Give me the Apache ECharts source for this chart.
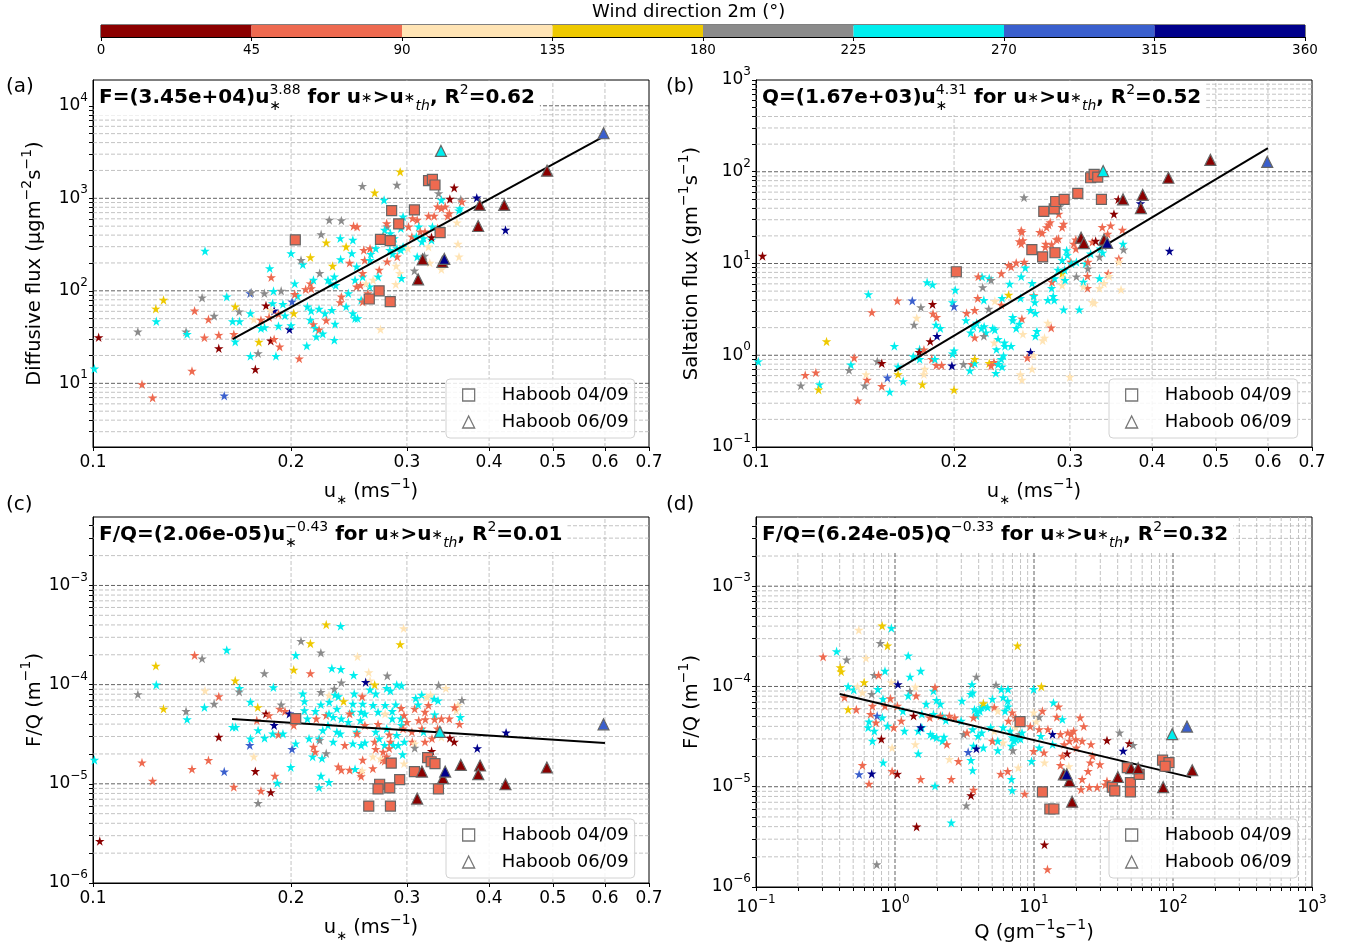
<!DOCTYPE html>
<html><head><meta charset="utf-8">
<script src="https://cdn.jsdelivr.net/npm/echarts@6/dist/echarts.min.js"></script>
<style>html,body{margin:0;padding:0;background:#fff}#c{width:1349px;height:944px}</style>
</head><body><div id="c"></div>
<script>
// ---------------- data ----------------
// direction bins (deg) and their colours
const DIR_BINS = [0,45,90,135,180,225,270,315,360];
const DIR_COLORS = ['#8B0000','#EE6A50','#FFE4B5','#EEC900','#8B8B8B','#00EEEE','#3A5FCD','#00008B'];
const U_TICKS = [0.1,0.2,0.3,0.4,0.5,0.6,0.7];

// each point: [x, y, direction-bin index]
const aStars = [[0.102,31.4,0],[0.1005,14.4,5],[0.1187,9.75,1],[0.1232,7.0,1],[0.117,36.2,4],[0.1248,46.8,5],[0.1246,64,3],[0.128,79.6,3],
[0.1414,13.6,1],[0.1427,61,1],[0.1385,36.2,4],[0.139,34.1,5],[0.1465,84.3,4],[0.1477,31.2,1],[0.148,270,5],[0.1498,49.2,1],[0.1528,53.5,4],[0.1553,23.9,0],[0.1553,33.3,1],[0.1583,7.36,6],[0.1597,86.5,5],[0.1637,34,1],[0.1645,28.2,5],[0.1645,67.5,3],[0.1668,59.6,4],[0.163,46.8,5],[0.167,46.8,5],
[0.1733,94,6],[0.174,96,4],[0.1735,57.1,5],[0.1756,49.2,2],[0.1735,19.7,5],[0.1765,14.2,0],[0.1782,21.1,4],[0.1787,28,3],[0.18,48.4,1],[0.1823,40.3,5],[0.18,39.5,5],[0.1822,94,4],[0.1856,175,5],[0.1866,140,1],[0.1881,99.5,5],[0.1832,69.2,0],[0.1885,61,7],[0.1875,73.3,5],[0.1863,62,2],[0.1852,51.8,1],[0.1863,28.9,0],[0.1885,30,1],[0.1922,24.9,1],[0.1897,19.7,5],[0.1914,41.7,5],[0.1914,56.2,1],[0.1944,72,5],[0.1932,100,4],[0.1958,54,5],[0.1989,38.4,7],[0.2,42.4,5],[0.2007,76.4,6],[0.2019,57.1,3],[0.2058,18.5,1],
[0.2,254,5],[0.2084,193,5],[0.2071,215,4],[0.214,230,3],[0.2026,120,5],[0.2046,88,5],[0.2026,92,1],[0.2105,104,1],[0.214,120,1],[0.2118,67.5,5],[0.2146,61,5],[0.214,48.4,5],[0.2163,43.4,1],[0.2178,39.5,5],[0.2113,25.5,5],[0.2185,32,5],[0.2206,63.7,5],[0.2211,155,4],[0.2222,408,4],[0.2262,332,3],[0.2163,131,5],[0.2146,106,1],[0.2276,131,5],[0.2206,38,1],[0.2252,57,5],[0.2262,48,1],[0.2235,34.4,5],[0.2307,62,5],[0.2333,43.8,5],[0.2327,29.4,5],[0.2296,120,5],[0.2338,115,5],[0.2385,86.4,1],[0.2376,75.2,1],[0.2313,186,3],[0.2327,142,5],[0.2376,370,5],[0.2286,583,4],[0.2385,577,4],[0.2483,355,5],[0.2425,300,3],[0.2379,219,5],[0.2489,502,1],[0.252,494,1],[0.2474,254,5],[0.2455,201,1],[0.2516,183,5],[0.2502,131,5],[0.2516,111,1],[0.2444,94,5],[0.2425,67.5,5],[0.2483,57,5],[0.2502,50.4,5],[0.2524,50.4,5],[0.2556,79.6,5],[0.257,76.4,1],[0.255,115,1],[0.257,142,5],[0.257,155,1],[0.2588,215,1],[0.2637,215,5],[0.258,276,1],[0.2644,250,5],[0.2637,287,1],[0.269,287,5],[0.2567,1358,4],[0.268,1151,3],[0.277,959,5],[0.2723,168,1],[0.2712,142,5],[0.2665,131,2],[0.2633,111,5],[0.2617,94,1],[0.26,120,2],[0.2735,38.4,2],[0.2832,80,5],[0.28,494,4],[0.2795,536,1],[0.2775,455,5],[0.2761,385,1],[0.2832,419,5],[0.287,370,5],[0.29,536,1],[0.2937,474,5],[0.29,234,1],[0.2853,250,5],[0.2897,287,5],[0.2826,276,5],[0.28,207,1],[0.2889,186,2],[0.2925,155,2],[0.2937,276,5],[0.2944,137,5],[0.2885,118,2],[0.296,300,5],[0.296,634,5],[0.2944,583,5],[0.2897,1393,4],[0.293,1941,3],[0.3017,494,1],[0.301,287,2],[0.3053,385,1],[0.307,748,1],[0.306,608,1],[0.311,583,1],[0.3127,494,5],[0.3144,436,1],[0.31,385,5],[0.318,370,5],[0.3162,340,5],[0.3196,436,1],[0.308,165,4],[0.311,234,5],[0.319,238,4],[0.3235,300,2],[0.325,201,2],[0.327,355,5],[0.327,379,0],[0.334,474,1],[0.328,494,5],[0.33,644,1],[0.3236,644,1],[0.334,813,1],[0.3385,780,1],[0.343,813,1],[0.3385,959,5],[0.3487,984,0],[0.3352,1132,4],[0.354,1303,0],[0.346,644,1],[0.348,688,1],[0.3575,546,2],[0.361,780,5],[0.36,736,5],[0.3623,975,4],[0.3637,920,1],[0.3587,321,2],[0.36,234,2],[0.3385,171,2],[0.3831,1016,7],[0.4236,455,7]];
const aSquares = [[0.203,355,1],[0.2735,360,1],[0.283,348,1],[0.2844,736,1],[0.308,748,1],[0.2915,528,1],[0.3236,1553,1],[0.328,1603,1],[0.331,1393,1],[0.337,425,1],[0.2722,100,1],[0.263,81.6,1],[0.283,76.4,1]];
const aTriangles = [[0.338,3250,5],[0.597,5050,6],[0.49,1990,0],[0.387,847,0],[0.4217,847,0],[0.385,502,0],[0.317,219,0],[0.3396,206,0],[0.312,133,0],[0.342,221,7]];
const aFit = [[0.163,30],[0.597,4650]];

const bStars = [[0.1023,12.1,0],[0.1008,0.855,5],[0.1188,0.608,1],[0.1233,0.648,1],[0.117,0.467,4],[0.1249,0.48,5],[0.1245,0.422,3],[0.128,1.416,3],[0.1394,0.79,5],[0.1385,0.69,4],[0.141,0.94,1],[0.1482,4.62,5],[0.15,2.94,1],[0.1428,0.321,1],[0.1463,0.467,4],[0.1475,0.54,1],[0.1553,0.46,1],[0.1529,0.86,4],[0.1553,0.82,0],[0.147,0.62,2],[0.1584,0.57,6],[0.1597,0.4,5],[0.1623,1.26,5],[0.1644,0.75,5],[0.1644,0.62,3],[0.1674,0.52,5],[0.164,3.93,1],[0.1728,3.93,6],[0.1781,3.33,4],[0.1855,3.6,0],[0.1755,2.55,2],[0.1739,2.15,4],[0.1858,2.85,1],[0.1881,2.6,1],[0.182,6.24,5],[0.1855,5.9,5],[0.1877,2.15,5],[0.1906,1.97,5],[0.1884,1.62,7],[0.184,1.42,0],[0.1773,1.16,5],[0.177,1.08,0],[0.18,1.15,1],[0.1734,0.97,5],[0.1773,0.91,5],[0.1805,0.71,2],[0.18,0.62,2],[0.179,0.48,3],[0.185,0.91,1],[0.1915,0.78,1],[0.188,0.78,1],[0.187,0.91,5],[0.1985,0.77,7],[0.199,1.04,5],[0.2,1.12,5],[0.2,0.42,3],[0.2008,5.15,5],[0.199,3.78,5],[0.2,3.4,6],[0.2067,0.8,4],[0.209,2.88,1],[0.2085,2.4,5],[0.212,1.76,5],[0.215,1.56,1],[0.214,2.05,5],[0.2128,0.8,1],[0.2114,0.68,5],[0.215,0.82,5],[0.215,0.91,3],[0.2165,2.25,5],[0.2173,4.19,1],[0.215,3.1,1],[0.2206,7.18,5],[0.2211,5.5,4],[0.222,4.0,5],[0.2177,7.2,1],[0.2202,1.97,5],[0.2236,1.76,5],[0.222,1.62,4],[0.2222,2.06,5],[0.2258,3.2,4],[0.2262,6.9,5],[0.2277,6.6,4],[0.229,1.97,5],[0.2307,1.9,5],[0.23,0.84,1],[0.232,1.16,5],[0.2315,0.64,5],[0.2333,0.8,5],[0.2262,0.82,3],[0.2277,0.77,1],[0.236,0.91,5],[0.2366,0.75,5],[0.236,3.55,1],[0.2307,3.9,2],[0.2333,1.5,5],[0.2302,1.37,2],[0.2386,1.37,5],[0.2378,0.99,5],[0.2421,4.55,3],[0.2366,4.2,5],[0.236,7.8,1],[0.2442,9.2,1],[0.2421,9.6,1],[0.243,6.0,5],[0.239,1.26,5],[0.2442,1.26,5],[0.2456,2.6,5],[0.2456,2.4,5],[0.2486,1.97,5],[0.2536,2.5,1],[0.2545,1.7,2],[0.2514,2.2,5],[0.253,7.2,5],[0.2523,4.2,5],[0.2486,10.2,1],[0.2566,9.0,5],[0.2557,10.4,1],[0.253,22.9,1],[0.2536,22,1],[0.2514,17.4,1],[0.253,16.4,1],[0.2545,17.9,1],[0.2628,6.1,5],[0.2643,4.5,1],[0.2653,3.78,5],[0.2614,3.1,5],[0.2658,2.88,5],[0.2673,1.83,5],[0.2658,1.62,5],[0.2643,4.4,5],[0.2614,1.08,7],[0.2585,0.94,1],[0.2643,1.0,2],[0.2628,0.71,2],[0.2523,0.62,2],[0.2536,0.54,2],[0.2722,21.5,1],[0.27,22,1],[0.2765,24.8,1],[0.2785,26.5,1],[0.28,28.1,1],[0.2757,16.4,1],[0.2752,15.1,1],[0.2814,16.2,1],[0.2885,34.7,1],[0.2895,41.9,4],[0.2555,52.5,4],[0.2935,27,1],[0.292,24.9,1],[0.2882,18.6,1],[0.2862,18.3,1],[0.2814,5.4,5],[0.283,4.4,5],[0.284,4.0,5],[0.2777,4.0,5],[0.2777,2.25,2],[0.281,2.0,1],[0.2727,1.45,2],[0.2745,1.55,2],[0.2818,6.3,1],[0.2844,6.9,5],[0.2877,8.5,5],[0.292,7.8,3],[0.2946,8.5,5],[0.2935,3.15,5],[0.292,10.9,5],[0.2928,6.9,2],[0.292,5.8,2],[0.295,6.6,5],[0.2966,13.9,5],[0.2973,12.3,5],[0.301,10.4,1],[0.3014,10,5],[0.304,16.4,1],[0.3063,18.2,1],[0.3063,14.5,1],[0.31,3.15,5],[0.3069,10.4,5],[0.3069,7.2,4],[0.319,7.3,1],[0.319,5.4,1],[0.3145,6.3,5],[0.317,10.0,5],[0.3195,10.4,1],[0.3226,12.8,5],[0.3145,5.6,2],[0.3245,3.8,2],[0.3266,3.7,2],[0.3195,8.8,4],[0.3327,6.9,5],[0.3327,5.4,2],[0.3245,17.2,1],[0.336,24.9,1],[0.346,25.9,1],[0.3424,21,1],[0.3283,17.6,0],[0.35,34.7,0],[0.3553,50,0],[0.3336,14.5,5],[0.3365,13.1,5],[0.3327,11.8,4],[0.338,15.4,4],[0.338,6.1,2],[0.343,7.8,1],[0.344,7.3,2],[0.356,11.3,1],[0.356,10.4,2],[0.3588,5.2,2],[0.3613,16.4,5],[0.362,14.2,4],[0.3605,23.3,1],[0.384,45.1,7],[0.4251,13.7,7],[0.3,0.58,2]];
const bSquares = [[0.2016,8.13,1],[0.2626,14.2,1],[0.2727,11.8,1],[0.2847,13.1,1],[0.2738,37,1],[0.284,39.3,1],[0.2854,47.4,1],[0.294,49.9,1],[0.3084,58,1],[0.335,50,1],[0.3226,86,1],[0.3266,93.6,1],[0.3307,87.6,1]];
const bTriangles = [[0.337,101.7,5],[0.5985,128,6],[0.4905,134.7,0],[0.4235,86,0],[0.387,56,0],[0.3846,40.2,0],[0.3613,50,0],[0.312,19.1,0],[0.315,16.7,0],[0.338,18.2,0],[0.3418,16.8,7]];
const bFit = [[0.1623,0.667],[0.6,181]];

const cStars = [[0.1024,2.65e-6,0],[0.1005,1.74e-5,5],[0.1187,1.64e-5,1],[0.1232,1.07e-5,1],[0.117,8.0e-5,4],[0.1248,1.0e-4,5],[0.1246,1.55e-4,3],[0.128,5.7e-5,3],[0.1414,1.41e-5,1],[0.1427,1.98e-4,1],[0.1465,1.83e-4,4],[0.1385,5.4e-5,4],[0.139,4.47e-5,5],[0.1477,5.9e-5,5],[0.1528,6.4e-5,4],[0.1553,7.6e-5,1],[0.1553,2.97e-5,0],[0.1498,1.73e-5,1],[0.1583,1.33e-5,6],[0.1597,2.24e-4,5],[0.163,3.74e-5,5],[0.1648,3.74e-5,5],[0.1637,9.3e-6,1],[0.1645,1.1e-4,3],[0.167,9.2e-5,5],[0.1668,8.5e-5,4],[0.148,8.7e-5,2],[0.1735,6.7e-5,5],[0.178,5.9e-5,3],[0.1756,1.88e-5,2],[0.1765,1.34e-5,0],[0.1731,2.45e-5,6],[0.1735,2.86e-5,5],[0.1774,4.37e-5,1],[0.1782,3.46e-5,5],[0.1782,6.4e-6,4],[0.18,8.5e-6,1],[0.1863,8.2e-6,0],[0.189,1.2e-5,1],[0.1906,1.02e-5,5],[0.1822,1.3e-4,4],[0.1832,5.1e-5,0],[0.1885,3.9e-5,7],[0.1852,4.9e-5,1],[0.188,9.4e-5,5],[0.1823,2.9e-5,5],[0.1922,5.7e-5,1],[0.1876,3.2e-5,5],[0.1914,3.14e-5,1],[0.1944,3.2e-5,5],[0.1932,6.3e-5,4],[0.1958,5.4e-5,1],[0.1989,5.1e-5,7],[0.2007,2.24e-5,6],[0.1998,1.47e-5,5],[0.2019,1.41e-4,3],[0.2033,1.98e-4,5],[0.2084,8.1e-5,5],[0.2096,6.8e-5,5],[0.214,1.3e-4,1],[0.214,2.6e-4,3],[0.2071,2.75e-4,4],[0.222,2.1e-4,4],[0.2262,4.04e-4,3],[0.2379,3.9e-4,5],[0.2033,2.55e-5,5],[0.2019,3.9e-5,1],[0.2096,5.5e-5,5],[0.2118,4.54e-5,5],[0.213,2.86e-5,5],[0.2163,2.36e-5,1],[0.2157,1.88e-5,5],[0.2221,1.2e-5,5],[0.2206,9.2e-6,5],[0.2284,1.04e-5,5],[0.2176,2.1e-5,1],[0.2185,4.54e-5,1],[0.2206,2.86e-5,5],[0.222,6.3e-5,5],[0.222,8.4e-5,4],[0.2178,5.4e-5,5],[0.2211,2.75e-5,4],[0.2235,3.46e-5,5],[0.2229,1.81e-5,5],[0.2262,2.03e-5,4],[0.2262,4.9e-5,1],[0.2286,6.7e-5,5],[0.2307,1.46e-4,5],[0.2381,1.43e-4,5],[0.249,1.25e-4,5],[0.2284,7.8e-5,2],[0.2327,9.05e-5,4],[0.2333,7.9e-5,5],[0.236,7.6e-5,5],[0.2348,5.7e-5,5],[0.2318,4.71e-5,5],[0.2284,5.1e-5,5],[0.2276,3.9e-5,5],[0.2348,3.34e-5,5],[0.2318,2.65e-5,5],[0.2376,3.2e-5,5],[0.2444,4.2e-5,5],[0.2385,4.54e-5,5],[0.2385,1.05e-4,4],[0.2404,6.8e-5,3],[0.2414,2.45e-5,1],[0.236,1.49e-5,1],[0.2385,1.38e-5,1],[0.2455,1.38e-5,1],[0.2502,1.41e-5,5],[0.2495,8.1e-5,5],[0.2483,6.4e-5,5],[0.2474,5.3e-5,5],[0.2455,5.1e-5,1],[0.2516,3.34e-5,5],[0.2483,2.55e-5,5],[0.252,3.2e-5,1],[0.2524,1.92e-4,2],[0.2625,1.33e-4,2],[0.2637,1.1e-4,2],[0.2597,1.06e-4,7],[0.268,1.0e-4,3],[0.2637,8.9e-5,5],[0.257,6.4e-5,5],[0.2565,7.6e-5,1],[0.2556,5.3e-5,5],[0.255,4.37e-5,5],[0.259,5.1e-5,5],[0.259,3.9e-5,1],[0.2556,2.45e-5,5],[0.259,2.6e-5,5],[0.257,1.74e-5,1],[0.2556,1.19e-5,1],[0.255,1.28e-5,1],[0.2565,1.36e-5,2],[0.2663,1.88e-5,2],[0.2663,1.43e-5,1],[0.269,8.1e-5,5],[0.2665,6.2e-5,5],[0.2712,5.3e-5,5],[0.2712,4.0e-5,1],[0.269,3.34e-5,5],[0.268,2.65e-5,1],[0.2723,2.86e-5,5],[0.269,2.24e-5,1],[0.276,2.1e-5,1],[0.2775,2.45e-5,5],[0.2754,1.74e-5,1],[0.2735,1.8e-5,2],[0.278,6.2e-5,5],[0.2795,9.2e-5,5],[0.2801,1.23e-4,4],[0.2832,8.7e-5,5],[0.2795,3.6e-5,5],[0.282,3.14e-5,1],[0.285,4.54e-5,5],[0.285,5.4e-5,5],[0.2885,6.3e-5,5],[0.278,5.1e-5,2],[0.2832,2.65e-5,1],[0.286,2.45e-5,5],[0.282,2.28e-5,1],[0.2795,1.88e-5,1],[0.2775,1.7e-5,1],[0.2895,1.0e-4,5],[0.2944,9.8e-5,5],[0.2937,4.54e-5,5],[0.2944,3.9e-5,5],[0.2895,3.1e-5,5],[0.291,2.45e-5,5],[0.294,5.8e-5,1],[0.293,2.55e-4,3],[0.2966,3.7e-4,2],[0.297,4.9e-5,1],[0.296,3.6e-5,1],[0.297,1.6e-5,2],[0.2955,1.98e-5,5],[0.3,4.2e-5,1],[0.3053,3.34e-5,1],[0.3057,2.65e-5,1],[0.2973,2.65e-5,5],[0.3083,5.7e-5,1],[0.3127,4.37e-5,1],[0.3162,3.6e-5,1],[0.3094,7.3e-5,5],[0.316,7.9e-5,5],[0.312,6.3e-5,5],[0.318,3.34e-5,5],[0.3083,2.55e-5,2],[0.3083,2.3e-5,4],[0.3196,5.3e-5,1],[0.3235,6.2e-5,1],[0.32,4.47e-5,1],[0.3216,7.5e-5,2],[0.326,7.9e-5,2],[0.33,7.2e-5,5],[0.3345,6.9e-5,5],[0.3306,5.0e-5,5],[0.3306,4.47e-5,1],[0.3385,4.54e-5,1],[0.348,4.54e-5,1],[0.3607,4.0e-5,1],[0.3617,4.71e-5,5],[0.3352,9.9e-5,4],[0.3438,9.2e-5,2],[0.3637,7.0e-5,4],[0.3587,6.2e-5,2],[0.3565,5.5e-5,2],[0.3545,5.9e-5,1],[0.3196,2.65e-5,1],[0.3487,2.9e-5,0],[0.354,2.65e-5,0],[0.3271,2.14e-5,0],[0.3385,2.97e-5,2],[0.3275,2.86e-5,1],[0.334,3.6e-5,1],[0.4245,3.28e-5,7],[0.3838,2.28e-5,7]];
const cSquares = [[0.2033,4.54e-5,1],[0.284,1.62e-5,1],[0.308,1.33e-5,1],[0.2925,1.1e-5,1],[0.2727,9.9e-6,1],[0.2712,8.9e-6,1],[0.2825,9.1e-6,1],[0.3226,1.84e-5,1],[0.3266,1.67e-5,1],[0.331,1.6e-5,1],[0.335,8.9e-6,1],[0.2625,5.97e-6,1],[0.2832,5.97e-6,1]];
const cTriangles = [[0.3367,3.34e-5,5],[0.597,3.98e-5,6],[0.4896,1.46e-5,0],[0.3876,1.53e-5,0],[0.3851,1.25e-5,0],[0.3623,1.55e-5,0],[0.4236,9.9e-6,0],[0.3162,1.33e-5,0],[0.3404,1.14e-5,0],[0.311,7.1e-6,0],[0.343,1.33e-5,7]];
const cFit = [[0.1627,4.5e-5],[0.6,2.58e-5]];

const dStars = [[0.304,1.98e-4,1],[0.38,2.24e-4,5],[0.449,1.85e-4,4],[0.549,3.66e-4,2],[0.808,4.04e-4,3],[0.942,3.83e-4,5],[0.784,2.7e-4,4],[0.883,2.55e-4,3],[0.618,1.92e-4,2],[0.404,1.55e-4,3],[0.41,1.41e-4,3],[0.46,1.0e-4,5],[0.433,7.8e-5,1],[0.46,5.9e-5,3],[0.527,5.9e-5,1],[0.505,9.3e-5,5],[0.537,1.0e-4,2],[0.6,1.1e-4,3],[0.583,8.7e-5,2],[0.649,4.47e-5,5],[0.668,5.3e-5,1],[0.68,8.4e-5,4],[0.709,1.3e-4,4],[0.761,1.3e-4,1],[0.752,9.4e-5,5],[0.744,5.1e-5,6],[0.688,6.4e-5,1],[0.688,2.86e-5,5],[0.798,3.0e-5,0],[0.641,3.9e-5,5],[0.71,3.6e-5,5],[0.73,4.37e-5,1],[0.847,1.43e-4,5],[0.82,7.5e-5,5],[0.847,6.4e-5,1],[0.81,4.9e-5,5],[0.926,7.6e-5,1],[0.94,1.1e-4,2],[1.05,1.05e-4,7],[0.883,4.04e-5,5],[0.98,3.9e-5,1],[0.953,2.45e-5,2],[0.822,1.74e-5,5],[0.583,1.64e-5,1],[0.552,1.33e-5,6],[0.68,1.35e-5,7],[0.65,1.07e-5,1],[0.953,1.43e-5,1],[1.04,1.34e-5,0],[1.245,2.03e-4,5],[1.283,1.25e-4,5],[1.53,1.43e-4,5],[1.42,8.1e-5,1],[1.28,9.0e-5,4],[1.4,9.9e-5,2],[1.245,8.1e-5,5],[1.04,6.4e-5,1],[1.14,5.7e-5,5],[1.11,4.54e-5,1],[1.36,5.1e-5,0],[1.17,3.6e-5,5],[1.47,3.6e-5,5],[1.56,3.9e-5,5],[1.56,5.3e-5,5],[1.53,3.9e-5,7],[1.4,2.65e-5,2],[1.47,2.14e-5,5],[1.53,1.19e-5,1],[1.43,4.0e-6,0],[1.675,6.7e-5,5],[1.89,9.05e-5,5],[1.99,7.3e-5,5],[1.94,9.8e-5,1],[2.12,6.7e-5,5],[1.89,5.3e-5,5],[1.78,4.9e-5,1],[2.19,5.1e-5,5],[2.32,4.6e-5,5],[1.87,3.2e-5,5],[1.99,3.1e-5,5],[2.25,3.14e-5,5],[2.19,2.86e-5,5],[2.36,2.65e-5,1],[1.8,3.34e-5,5],[2.12,5.1e-5,1],[2.46,5.1e-5,1],[2.69,4.9e-5,1],[2.99,4.54e-5,5],[3.03,7.2e-5,5],[3.58,1.05e-4,5],[3.52,8.4e-5,5],[3.85,1.25e-4,4],[3.62,8.7e-5,5],[2.86,1.8e-5,1],[2.54,1.19e-5,1],[1.94,1.02e-5,5],[2.54,4.38e-6,5],[2.46,1.88e-5,2],[3.12,3.34e-5,4],[3.3,3.46e-5,1],[3.62,3.74e-5,5],[3.73,5.9e-5,5],[3.86,5.1e-5,5],[3.67,4.9e-5,1],[3.86,5.7e-5,5],[4.08,5.7e-5,5],[4.2,6.2e-5,5],[4.32,6.4e-5,5],[4.32,6.8e-5,3],[3.96,3.2e-5,5],[4.2,3.46e-5,5],[3.67,2.55e-5,5],[3.52,1.84e-5,5],[3.62,1.46e-5,5],[3.67,9.3e-6,1],[3.52,8.2e-6,0],[3.26,6.5e-6,4],[3.36,2.22e-5,6],[3.85,2.4e-5,7],[4.32,2.45e-5,5],[5.02,2.86e-5,1],[4.88,3.9e-5,5],[5.18,3.6e-5,2],[5.02,7.5e-5,5],[4.64,6.2e-5,5],[5.18,6.2e-5,1],[5.49,5.7e-5,2],[6.0,7.8e-5,5],[6.19,5.7e-5,5],[6.47,7.2e-5,5],[6.5,6.3e-5,5],[5.33,1.04e-4,4],[5.82,9.4e-5,5],[6.5,9.4e-5,5],[6.0,2.76e-5,2],[5.49,2.86e-5,5],[5.49,2.3e-5,5],[5.76,1.34e-5,1],[6.0,3.9e-5,5],[6.75,3.6e-5,5],[6.55,4.54e-5,1],[6.97,3.1e-5,5],[7.18,2.86e-5,5],[7.39,2.97e-5,5],[6.88,2.55e-5,5],[7.05,2.3e-5,4],[7.61,3.14e-5,5],[7.85,3.34e-5,4],[8.2,3.46e-5,5],[8.0,3.0e-5,5],[6.97,5.5e-5,1],[7.39,4.9e-5,1],[7.39,3.9e-5,2],[6.47,1.43e-5,1],[7.7,1.55e-5,2],[6.88,1.19e-5,5],[6.97,9.2e-6,5],[8.57,8.5e-6,1],[7.6,2.55e-4,3],[11.3,1.0e-4,3],[9.94,9.4e-5,5],[9.4,4.0e-5,1],[9.94,5.5e-5,2],[10.9,4.97e-5,4],[11.5,5.7e-5,1],[10.4,4.47e-5,2],[10.9,3.74e-5,1],[11.2,3.2e-5,5],[10.9,2.45e-5,5],[9.94,2.27e-5,1],[9.6,1.8e-5,5],[11.9,1.74e-5,2],[11.8,2.19e-5,1],[13.8,6.9e-5,5],[15.0,6.3e-5,1],[14.6,4.97e-5,1],[16.0,4.71e-5,5],[13.6,3.34e-5,7],[12.6,3.74e-5,1],[13.6,2.65e-5,5],[15.5,3.34e-5,1],[16.5,2.65e-5,1],[17.5,3.46e-5,1],[18.0,2.86e-5,1],[18.5,3.34e-5,1],[19.3,3.6e-5,1],[20.2,2.45e-5,1],[17.3,2.14e-5,0],[17.8,1.6e-5,2],[15.5,1.64e-5,1],[16.0,2.03e-5,1],[20,2.97e-5,1],[22.2,2.86e-5,1],[22.8,4.0e-5,1],[21.5,4.9e-5,1],[25.7,2.65e-5,1],[26.4,2.03e-5,1],[25.4,1.74e-5,1],[22.2,1.19e-5,1],[24.5,1.43e-5,1],[21.8,9.4e-6,1],[25,9.9e-6,1],[28.5,9.9e-6,1],[32.6,1.05e-5,1],[33.5,1.14e-5,1],[29.8,1.67e-5,1],[41.3,3.46e-5,4],[33.5,2.9e-5,0],[48.5,2.7e-5,0],[51.7,2.6e-5,4],[43.8,2.28e-5,7],[11.9,2.65e-6,0],[12.5,1.5e-6,1],[0.739,1.68e-6,4]];
const dSquares = [[7.94,4.47e-5,1],[11.5,8.9e-6,1],[13.0,6.0e-6,1],[13.9,6.0e-6,1],[36.6,9.9e-6,1],[38.1,9.1e-6,1],[46.9,1.55e-5,1],[49.4,1.1e-5,1],[49.4,8.9e-6,1],[57.1,1.33e-5,1],[84.1,1.84e-5,1],[93.6,1.74e-5,1],[87.8,1.6e-5,1]];
const dTriangles = [[98.6,3.34e-5,5],[126,3.98e-5,6],[137.5,1.46e-5,0],[16.4,1.33e-5,0],[18.0,1.14e-5,0],[18.8,7.1e-6,0],[40.1,1.25e-5,0],[50,1.53e-5,0],[56.2,1.53e-5,0],[85,9.9e-6,0],[17.2,1.33e-5,7]];
const dFit = [[0.40,8.4e-5],[135,1.24e-5]];

// ---------------- styling ----------------
const FONT = 'DejaVu Sans';
const STAR = 'path://M50 0L61.17 34.63L97.55 34.55L68.07 55.87L79.39 90.45L50 69L20.61 90.45L31.93 55.87L2.45 34.55L38.83 34.63Z';
const MAJOR = {color:'#3a3a3a', type:[4,2], width:0.8};
const MINOR = {color:'#b4b4b4', type:[4,2], width:0.8};

const GRIDS = [
  {left:93, top:80, width:556, height:367},
  {left:756, top:80, width:556, height:367},
  {left:93, top:517, width:556, height:370},
  {left:756, top:517, width:556, height:370}
];
const Y_RANGE = [[2.05,19000],[0.1,1000],[1e-6,4.9e-3],[1e-6,4.9e-3]];
const X_RANGE = [[0.1,0.7],[0.1,0.7],[0.1,0.7],[0.1,1000]];

function decades(min,max){const o=[];for(let e=Math.floor(Math.log10(min)-1e-9);e<=Math.ceil(Math.log10(max));e++){const v=Math.pow(10,e);if(v>=min*0.9999&&v<=max*1.0001)o.push(v);}return o;}
function allLogTicks(min,max){const o=[];for(let e=Math.floor(Math.log10(min))-1;e<=Math.ceil(Math.log10(max));e++)for(let m=1;m<=9;m++){const v=m*Math.pow(10,e);if(v>=min*0.9999&&v<=max*1.0001)o.push(v);}return o;}
// interior log grid positions, flagged major (decade) or minor
function logGridVals(min,max){const o=[];for(let e=Math.floor(Math.log10(min))-1;e<=Math.ceil(Math.log10(max));e++)for(let m=1;m<=9;m++){const v=m*Math.pow(10,e);if(v>min*1.001&&v<max*0.999)o.push([v,m===1]);}return o;}
function supText(e){return e<0?'−'+(-e):String(e);}
function powLabel(v){const l=Math.log10(v),e=Math.round(l);if(Math.abs(l-e)>1e-6)return '';return '{b|10}{s|'+supText(e)+'}';}
const POW_RICH = {b:{fontSize:17,fontFamily:FONT,color:'#000',lineHeight:28},s:{fontSize:12,fontFamily:FONT,color:'#000',lineHeight:12,verticalAlign:'top'}};
const NAME_RICH = {n:{fontSize:19.5,fontFamily:FONT,color:'#000',lineHeight:30},
  s:{fontSize:14,fontFamily:FONT,color:'#000',lineHeight:14,verticalAlign:'top'},
  sb:{fontSize:13,fontFamily:FONT,color:'#000',lineHeight:16,verticalAlign:'bottom'}};

const Y_NAMES = ['{n|Diffusive flux (μgm}{s|−2}{n|s}{s|−1}{n|)}','{n|Saltation flux (gm}{s|−1}{n|s}{s|−1}{n|)}','{n|F/Q (m}{s|−1}{n|)}','{n|F/Q (m}{s|−1}{n|)}'];
const X_NAMES = ['{n|u}{sb|∗}{n| (ms}{s|−1}{n|)}','{n|u}{sb|∗}{n| (ms}{s|−1}{n|)}','{n|u}{sb|∗}{n| (ms}{s|−1}{n|)}','{n|Q (gm}{s|−1}{n|s}{s|−1}{n|)}'];
const TITLES = [
 'F=(3.45e+04)u{sb0|∗}{sp|3.88} for u{sa|∗}>u{sa|∗}{it|th}, R{sp|2}=0.62',
 'Q=(1.67e+03)u{sb0|∗}{sp|4.31} for u{sa|∗}>u{sa|∗}{it|th}, R{sp|2}=0.52',
 'F/Q=(2.06e-05)u{sb0|∗}{sp|−0.43} for u{sa|∗}>u{sa|∗}{it|th}, R{sp|2}=0.01',
 'F/Q=(6.24e-05)Q{sp|−0.33} for u{sa|∗}>u{sa|∗}{it|th}, R{sp|2}=0.32'
];
const PANEL = ['(a)','(b)','(c)','(d)'];
const STARS=[aStars,bStars,cStars,dStars], SQUARES=[aSquares,bSquares,cSquares,dSquares], TRIS=[aTriangles,bTriangles,cTriangles,dTriangles], FITS=[aFit,bFit,cFit,dFit];

const colorOf = p => DIR_COLORS[p.value[2]];
const xAxes=[], yAxes=[], series=[], titles=[], legends=[];
function gridLineSeries(i,pts,style){
  return {type:'line',xAxisIndex:i,yAxisIndex:i,data:pts,symbol:'none',silent:true,z:1,lineStyle:style,emphasis:{disabled:true},tooltip:{show:false}};
}
GRIDS.forEach((g,i)=>{
  const [xmin,xmax]=X_RANGE[i], [ymin,ymax]=Y_RANGE[i];
  const isU = i<3;
  xAxes.push({type:'log',gridIndex:i,min:xmin,max:xmax,
    axisLine:{show:true,onZero:false,lineStyle:{color:'#000',width:1}},
    axisTick:{show:true,length:4,lineStyle:{color:'#000'},customValues: isU?U_TICKS:allLogTicks(xmin,xmax)},
    axisLabel:{show:true,margin:7,fontSize:17,fontFamily:FONT,color:'#000',customValues: isU?U_TICKS:decades(xmin,xmax),
      formatter: isU ? (v=>{const r=Math.round(v*10)/10;return U_TICKS.some(t=>Math.abs(t-r)<1e-9)&&Math.abs(v-r)<1e-6?r.toFixed(1):'';}) : powLabel,
      rich: POW_RICH, showMinLabel:true, showMaxLabel:true},
    splitLine:{show:false},minorTick:{show:false},
    name:X_NAMES[i],nameLocation:'middle',nameGap:i<3?30:31,
    nameTextStyle:{fontSize:19.5,fontFamily:FONT,color:'#000',rich:NAME_RICH}
  });
  yAxes.push({type:'log',gridIndex:i,min:ymin,max:ymax,
    axisLine:{show:true,onZero:false,lineStyle:{color:'#000',width:1}},
    axisTick:{show:true,length:4,lineStyle:{color:'#000'},customValues:allLogTicks(ymin,ymax)},
    axisLabel:{show:true,margin:5,customValues:decades(ymin,ymax),formatter:powLabel,rich:POW_RICH,showMinLabel:true,showMaxLabel:true},
    splitLine:{show:false},minorTick:{show:false},
    name:Y_NAMES[i],nameLocation:'middle',nameGap:(i===1||i===3)?49:43,
    nameTextStyle:{fontSize:19.5,fontFamily:FONT,color:'#000',rich:NAME_RICH}
  });
  // matplotlib-style dashed grid (major decades dark, minor light)
  logGridVals(ymin,ymax).forEach(([v,maj])=>series.push(gridLineSeries(i,[[xmin,v],[xmax,v]],maj?MAJOR:MINOR)));
  if(isU){
    U_TICKS.filter(t=>t>xmin&&t<xmax).forEach(t=>series.push(gridLineSeries(i,[[t,ymin],[t,ymax]],MINOR)));
  } else {
    logGridVals(xmin,xmax).forEach(([v,maj])=>series.push(gridLineSeries(i,[[v,ymin],[v,ymax]],maj?MAJOR:MINOR)));
  }
  series.push({type:'scatter',name:'stars'+i,xAxisIndex:i,yAxisIndex:i,data:STARS[i],symbol:STAR,symbolSize:9.5,z:2,
    itemStyle:{color:colorOf,opacity:1},emphasis:{disabled:true}});
  series.push({type:'line',name:'fit'+i,xAxisIndex:i,yAxisIndex:i,data:FITS[i],symbol:'none',z:3,
    lineStyle:{color:'#000',width:2},emphasis:{disabled:true}});
  series.push({type:'scatter',name:'Haboob 04/09',xAxisIndex:i,yAxisIndex:i,data:SQUARES[i],symbol:'rect',symbolSize:10,z:4,
    itemStyle:{color:colorOf,borderColor:'#666',borderWidth:1.2,opacity:1},emphasis:{disabled:true}});
  series.push({type:'scatter',name:'Haboob 06/09',xAxisIndex:i,yAxisIndex:i,data:TRIS[i],symbol:'triangle',symbolSize:11,z:4,
    itemStyle:{color:colorOf,borderColor:'#666',borderWidth:1.2,opacity:1},emphasis:{disabled:true}});
  titles.push({text:TITLES[i],left:g.left+1,top:g.top+1,padding:[2,5,2,5],backgroundColor:'#fff',
    textStyle:{fontSize:20,fontWeight:'bold',fontFamily:FONT,color:'#000',lineHeight:30,
      rich:{sb0:{fontSize:14,fontWeight:'normal',fontFamily:FONT,color:'#000',width:0.01,lineHeight:13,verticalAlign:'bottom'},
            sp:{fontSize:14,fontWeight:'normal',fontFamily:FONT,color:'#000',lineHeight:13,verticalAlign:'top'},
            sa:{fontSize:14,fontWeight:'normal',fontFamily:FONT,color:'#000',lineHeight:30},
            it:{fontSize:14,fontWeight:'normal',fontStyle:'italic',fontFamily:FONT,color:'#000',lineHeight:17,verticalAlign:'bottom'}}}});
  titles.push({text:PANEL[i],left:i%2===0?6:666,top:i<2?77:495,padding:0,textStyle:{fontSize:20,fontWeight:'normal',fontFamily:FONT,color:'#000'}});
  legends.push({orient:'vertical',left:g.left+g.width-203,top:g.top+g.height-68,itemWidth:12,itemHeight:12,itemGap:9,
    padding:[7,6,7,16],backgroundColor:'rgba(255,255,255,0.85)',borderColor:'#d2d2d2',borderWidth:1,borderRadius:4,
    selectedMode:false,icon:'rect',
    textStyle:{fontSize:18,fontFamily:FONT,color:'#000',padding:[0,0,0,22]},
    data:[{name:'Haboob 04/09',icon:'rect',itemStyle:{color:'rgba(0,0,0,0)',borderColor:'#777',borderWidth:1.3}},
          {name:'Haboob 06/09',icon:'triangle',itemStyle:{color:'rgba(0,0,0,0)',borderColor:'#777',borderWidth:1.3}}]});
});

// colorbar (grid 4)
const cbGrid = {left:101,top:25,width:1204,height:12,show:true,borderColor:'#000',borderWidth:1};
xAxes.push({type:'value',gridIndex:4,min:DIR_BINS[0],max:DIR_BINS[DIR_BINS.length-1],interval:45,
  axisLine:{show:true,lineStyle:{color:'#000'}},axisTick:{show:true,length:4,lineStyle:{color:'#000'}},
  axisLabel:{fontSize:13.5,fontFamily:FONT,color:'#000',margin:6},splitLine:{show:false}});
yAxes.push({type:'category',gridIndex:4,data:['dir'],show:false});
for(let k=0;k<DIR_COLORS.length;k++){
  series.push({type:'bar',name:'cb'+k,xAxisIndex:4,yAxisIndex:4,stack:'cb',barWidth:'100%',silent:true,
    data:[DIR_BINS[k+1]-DIR_BINS[k]],itemStyle:{color:DIR_COLORS[k]}});
}

const chart = echarts.init(document.getElementById('c'),null,{renderer:'canvas'});
chart.setOption({
  animation:false,
  backgroundColor:'#fff',
  textStyle:{fontFamily:FONT},
  grid: GRIDS.map(g=>Object.assign({show:true,borderColor:'#000',borderWidth:1,backgroundColor:'transparent'},g)).concat([cbGrid]),
  xAxis:xAxes, yAxis:yAxes, series:series,
  legend:legends,
  title:titles.concat([{text:'Wind direction 2m (°)',left:592,top:3,padding:0,textStyle:{fontSize:18,fontWeight:'normal',fontFamily:FONT,color:'#000'}}]),
  tooltip:{show:false}
});
</script></body></html>
